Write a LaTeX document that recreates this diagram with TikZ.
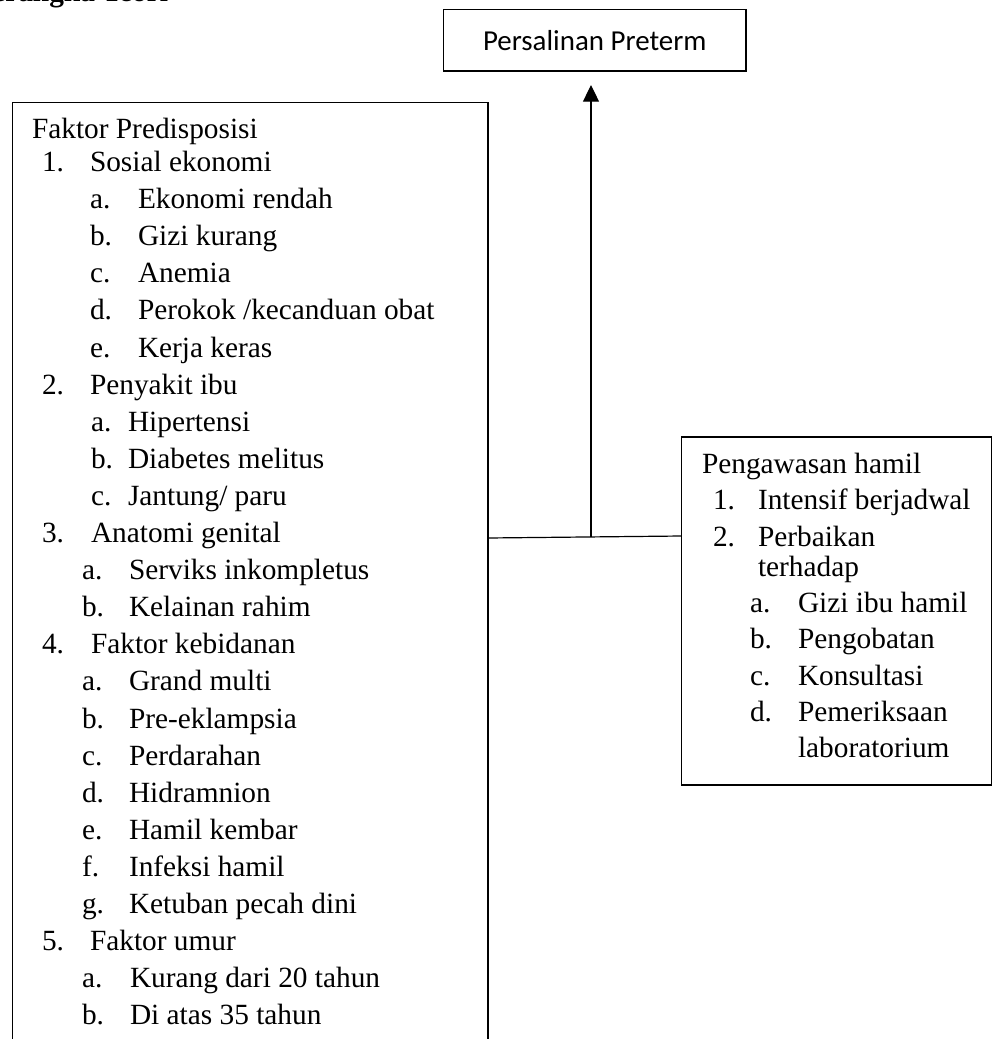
\documentclass[tikz,border=0pt]{standalone}
\usepackage{fontspec}
\setmainfont{Liberation Serif}
\newfontfamily\calibrifont{Carlito}
\usetikzlibrary{arrows.meta}
\begin{document}
\begin{tikzpicture}[x=0.75pt,y=-0.75pt,
  every node/.style={inner sep=0pt,outer sep=0pt},
  txt/.style={anchor=base west,font=\fontsize{22}{26}\selectfont},
  boxshape/.style={draw,line width=0.9pt,anchor=north west},
  conn/.style={line width=0.9pt},
  arrowconn/.style={line width=0.9pt,-{Triangle[width=12pt,length=12.5pt]}}]
\useasboundingbox (0,0) rectangle (993,1039);
\clip (0,0) rectangle (993,1039);
% cut-off heading
\node[anchor=base east,font=\fontsize{22}{26}\selectfont\bfseries] (head) at (168,1) {Kerangka Teori};
% boxes
\node[boxshape,minimum width=226.9pt,minimum height=46.1pt,font=\calibrifont\fontsize{21.7}{26}\selectfont] (pp) at (443.5,9.5) {Persalinan Preterm};
\node[boxshape,minimum width=356.6pt,minimum height=718pt] (fp) at (12.5,102.5) {};
\node[boxshape,minimum width=232.5pt,minimum height=261pt] (ph) at (681.5,437) {};
% connectors
\coordinate (jl) at (487.5,538);
\coordinate (jr) at (681.5,536);
\coordinate (jm) at (591,537);
\coordinate (tip) at (591,85);
\draw[conn] (jl) -- (jr);
\draw[arrowconn] (jm) -- (tip);
% left box text
\node[txt] (t0) at (32,138) {Faktor Predisposisi};
\def\yy#1{171.5+#1*37.1}
\node[txt] (n1) at (42,{\yy{0}}) {1.};  \node[txt] (s1) at (90,{\yy{0}}) {Sosial ekonomi};
\node[txt] (n1a) at (90,{\yy{1}}) {a.}; \node[txt] (s1a) at (138,{\yy{1}}) {Ekonomi rendah};
\node[txt] (n1b) at (90,{\yy{2}}) {b.}; \node[txt] (s1b) at (138,{\yy{2}}) {Gizi kurang};
\node[txt] (n1c) at (90,{\yy{3}}) {c.}; \node[txt] (s1c) at (138,{\yy{3}}) {Anemia};
\node[txt] (n1d) at (90,{\yy{4}}) {d.}; \node[txt] (s1d) at (138,{\yy{4}}) {Perokok /kecanduan obat};
\node[txt] (n1e) at (90,{\yy{5}}) {e.}; \node[txt] (s1e) at (138,{\yy{5}}) {Kerja keras};
\node[txt] (n2) at (42,{\yy{6}}) {2.};  \node[txt] (s2) at (90,{\yy{6}}) {Penyakit ibu};
\node[txt] (n2a) at (91,{\yy{7}}) {a.}; \node[txt] (s2a) at (128,{\yy{7}}) {Hipertensi};
\node[txt] (n2b) at (91,{\yy{8}}) {b.}; \node[txt] (s2b) at (128,{\yy{8}}) {Diabetes melitus};
\node[txt] (n2c) at (91,{\yy{9}}) {c.}; \node[txt] (s2c) at (128,{\yy{9}}) {Jantung/ paru};
\node[txt] (n3) at (42,{\yy{10}}) {3.};  \node[txt] (s3) at (91,{\yy{10}}) {Anatomi genital};
\node[txt] (n3a) at (82,{\yy{11}}) {a.}; \node[txt] (s3a) at (129,{\yy{11}}) {Serviks inkompletus};
\node[txt] (n3b) at (82,{\yy{12}}) {b.}; \node[txt] (s3b) at (129,{\yy{12}}) {Kelainan rahim};
\node[txt] (n4) at (42,{\yy{13}}) {4.};  \node[txt] (s4) at (91,{\yy{13}}) {Faktor kebidanan};
\node[txt] (n4a) at (82,{\yy{14}}) {a.}; \node[txt] (s4a) at (129,{\yy{14}}) {Grand multi};
\node[txt] (n4b) at (82,{\yy{15}}) {b.}; \node[txt] (s4b) at (129,{\yy{15}}) {Pre-eklampsia};
\node[txt] (n4c) at (82,{\yy{16}}) {c.}; \node[txt] (s4c) at (129,{\yy{16}}) {Perdarahan};
\node[txt] (n4d) at (82,{\yy{17}}) {d.}; \node[txt] (s4d) at (129,{\yy{17}}) {Hidramnion};
\node[txt] (n4e) at (82,{\yy{18}}) {e.}; \node[txt] (s4e) at (129,{\yy{18}}) {Hamil kembar};
\node[txt] (n4f) at (82,{\yy{19}}) {f.}; \node[txt] (s4f) at (129,{\yy{19}}) {Infeksi hamil};
\node[txt] (n4g) at (82,{\yy{20}}) {g.}; \node[txt] (s4g) at (129,{\yy{20}}) {Ketuban pecah dini};
\node[txt] (n5) at (42,{\yy{21}}) {5.};  \node[txt] (s5) at (90,{\yy{21}}) {Faktor umur};
\node[txt] (n5a) at (82,{\yy{22}}) {a.}; \node[txt] (s5a) at (130,{\yy{22}}) {Kurang dari 20 tahun};
\node[txt] (n5b) at (82,{\yy{23}}) {b.}; \node[txt] (s5b) at (130,{\yy{23}}) {Di atas 35 tahun};
% right box text
\node[txt] (r0) at (702,473) {Pengawasan hamil};
\node[txt] (rn1) at (713,509.5) {1.}; \node[txt] (rs1) at (758,509.5) {Intensif berjadwal};
\node[txt] (rn2) at (713,546) {2.}; \node[txt] (rs2) at (758,546) {Perbaikan};
\node[txt] (rs2x) at (758,576) {terhadap};
\node[txt] (rna) at (750,612) {a.}; \node[txt] (rsa) at (798,612) {Gizi ibu hamil};
\node[txt] (rnb) at (750,648.5) {b.}; \node[txt] (rsb) at (798,648.5) {Pengobatan};
\node[txt] (rnc) at (750,685) {c.}; \node[txt] (rsc) at (798,685) {Konsultasi};
\node[txt] (rnd) at (750,721.5) {d.}; \node[txt] (rsd) at (798,721.5) {Pemeriksaan};
\node[txt] (rsd2) at (798,757) {laboratorium};
\end{tikzpicture}
\end{document}
